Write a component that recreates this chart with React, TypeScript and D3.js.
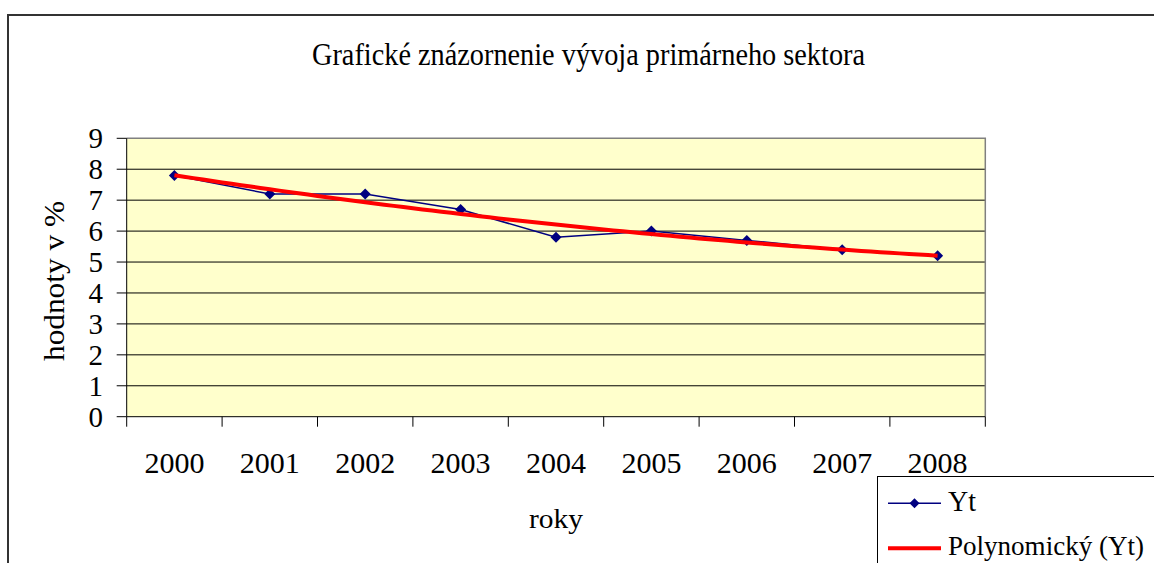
import React from "react";
import * as d3 from "d3";

const categories = ["2000", "2001", "2002", "2003", "2004", "2005", "2006", "2007", "2008"];
const ytValues = [7.8, 7.2, 7.2, 6.7, 5.8, 6.0, 5.7, 5.4, 5.2];
const yTicks = [0, 1, 2, 3, 4, 5, 6, 7, 8, 9];
const titleText = "Grafické znázornenie vývoja primárneho sektora";
const yTitle = "hodnoty v %";
const xTitle = "roky";
const legendLabels = ["Yt", "Polynomický (Yt)"];

const FONT = "'Liberation Serif', 'Times New Roman', 'DejaVu Serif', serif";

// quadratic least-squares trendline (Excel "Polynomický", order 2)
function polyFit(ys: number[]) {
  const n = ys.length;
  const xs = ys.map((_, i) => i + 1);
  let s0 = n, s1 = 0, s2 = 0, s3 = 0, s4 = 0, t0 = 0, t1 = 0, t2 = 0;
  xs.forEach((x, i) => {
    const y = ys[i];
    s1 += x; s2 += x * x; s3 += x * x * x; s4 += x * x * x * x;
    t0 += y; t1 += x * y; t2 += x * x * y;
  });
  const M = [
    [s0, s1, s2, t0],
    [s1, s2, s3, t1],
    [s2, s3, s4, t2],
  ];
  for (let i = 0; i < 3; i++) {
    let p = i;
    for (let r = i + 1; r < 3; r++) if (Math.abs(M[r][i]) > Math.abs(M[p][i])) p = r;
    [M[i], M[p]] = [M[p], M[i]];
    for (let r = 0; r < 3; r++) {
      if (r === i) continue;
      const f = M[r][i] / M[i][i];
      for (let c = i; c < 4; c++) M[r][c] -= f * M[i][c];
    }
  }
  const a = M[0][3] / M[0][0], b = M[1][3] / M[1][1], c = M[2][3] / M[2][2];
  return (x: number) => a + b * x + c * x * x;
}

export default function App() {
  const W = 1154, H = 563;
  const plot = { left: 126.7, right: 985.3, top: 138.3, bottom: 416.7 };

  const x = d3.scaleBand<string>().domain(categories).range([plot.left, plot.right]).padding(0);
  const y = d3.scaleLinear().domain([0, 9]).range([plot.bottom, plot.top]);
  const cx = (c: string) => (x(c) as number) + x.bandwidth() / 2;

  const fit = polyFit(ytValues);
  const xIdx = d3.scaleLinear().domain([1, categories.length]).range([cx(categories[0]), cx(categories[categories.length - 1])]);
  const trendPts: [number, number][] = d3.range(1, categories.length + 0.001, 0.1).map((t) => [xIdx(t), y(fit(t))]);
  const trendLine = d3.line()(trendPts) as string;
  const ytLine = d3.line<number>().x((_, i) => cx(categories[i])).y((v) => y(v))(ytValues) as string;

  const diamond = (px: number, py: number, r = 5.5) =>
    `M${px},${py - r}L${px + r},${py}L${px},${py + r}L${px - r},${py}Z`;

  const ts = { fontFamily: FONT };

  return (
    <svg width={W} height={H} style={{ position: "absolute", left: 0, top: 0, background: "#fff", fontFamily: FONT }}>
      {/* chart frame */}
      <path d={`M8,${H + 5}V15H${W + 5}`} fill="none" stroke="#333" strokeWidth={2} />

      <text style={ts} x={588.5} y={65} textAnchor="middle" fontSize={32} textLength={553} lengthAdjust="spacingAndGlyphs">
        {titleText}
      </text>

      {/* plot area */}
      <rect x={plot.left} y={plot.top} width={plot.right - plot.left} height={plot.bottom - plot.top} fill="#FFFFCC" />
      {yTicks.slice(1, -1).map((t) => (
        <line key={t} x1={plot.left} x2={plot.right} y1={y(t)} y2={y(t)} stroke="#000" strokeWidth={1} />
      ))}
      <path d={`M${plot.left},${plot.top}H${plot.right}V${plot.bottom}`} fill="none" stroke="#808080" strokeWidth={1.5} />
      <line x1={plot.left} x2={plot.right} y1={plot.bottom} y2={plot.bottom} stroke="#000" strokeWidth={1} />
      <line x1={plot.left} x2={plot.left} y1={plot.top} y2={plot.bottom} stroke="#000" strokeWidth={1} />

      {/* y axis ticks & labels */}
      {yTicks.map((t) => (
        <g key={t}>
          <line x1={plot.left - 10} x2={plot.left} y1={y(t)} y2={y(t)} stroke="#000" strokeWidth={1} />
          <text style={ts} x={103} y={y(t) + 10} textAnchor="end" fontSize={29}>{t}</text>
        </g>
      ))}

      {/* x axis ticks & labels */}
      {categories.map((c) => (
        <line key={"t" + c} x1={x(c) as number} x2={x(c) as number} y1={plot.bottom} y2={plot.bottom + 10} stroke="#000" strokeWidth={1} />
      ))}
      <line x1={plot.right} x2={plot.right} y1={plot.bottom} y2={plot.bottom + 10} stroke="#000" strokeWidth={1} />
      {categories.map((c) => (
        <text style={ts} key={"l" + c} x={cx(c)} y={473} textAnchor="middle" fontSize={30}>{c}</text>
      ))}

      {/* axis titles */}
      <text style={ts} transform={`translate(64,281) rotate(-90)`} textAnchor="middle" fontSize={29} textLength={160} lengthAdjust="spacingAndGlyphs">
        {yTitle}
      </text>
      <text style={ts} x={556} y={528} textAnchor="middle" fontSize={28} textLength={54} lengthAdjust="spacingAndGlyphs">
        {xTitle}
      </text>

      {/* series */}
      <path d={ytLine} fill="none" stroke="#000080" strokeWidth={1.5} />
      {ytValues.map((v, i) => (
        <path key={i} d={diamond(cx(categories[i]), y(v))} fill="#000080" />
      ))}
      <path d={trendLine} fill="none" stroke="#FF0000" strokeWidth={4} strokeLinejoin="round" />

      {/* legend */}
      <rect x={877.5} y={476.5} width={400} height={200} fill="#fff" stroke="#000" strokeWidth={1} />
      <line x1={888} x2={941} y1={503.3} y2={503.3} stroke="#000080" strokeWidth={1.5} />
      <path d={diamond(914.5, 503.3, 5)} fill="#000080" />
      <text style={ts} x={948} y={511} fontSize={29} textLength={28} lengthAdjust="spacingAndGlyphs">{legendLabels[0]}</text>
      <line x1={888} x2={941} y1={548.3} y2={548.3} stroke="#FF0000" strokeWidth={4} />
      <text style={ts} x={948} y={555} fontSize={28} textLength={196} lengthAdjust="spacingAndGlyphs">{legendLabels[1]}</text>
    </svg>
  );
}
